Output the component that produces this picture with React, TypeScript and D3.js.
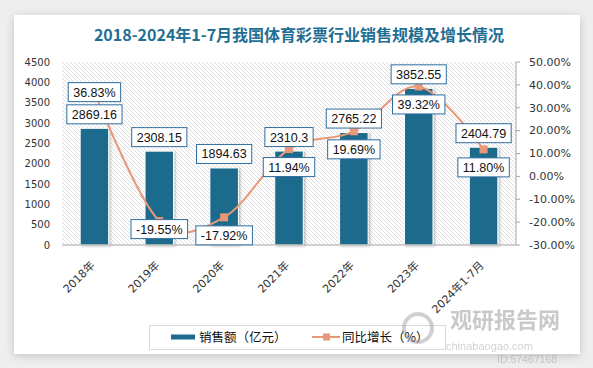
import React, { useEffect, useRef } from 'react';
import * as d3 from 'd3';

const categories = ['2018年', '2019年', '2020年', '2021年', '2022年', '2023年', '2024年1-7月'];
const sales = [2869.16, 2308.15, 1894.63, 2310.3, 2765.22, 3852.55, 2404.79];
const growth = [36.83, -19.55, -17.92, 11.94, 19.69, 39.32, 11.8];
const leftTicks = [0, 500, 1000, 1500, 2000, 2500, 3000, 3500, 4000, 4500];
const rightTicks = [-30, -20, -10, 0, 10, 20, 30, 40, 50];
const title = '2018-2024年1-7月我国体育彩票行业销售规模及增长情况';
const legendSales = '销售额（亿元）';
const legendGrowth = '同比增长（%）';
// label placement relative to the growth point (layout, not data)
const growthLabelDy = [0, 8, 18, 18, 18, 18, 18];

const W = 593;
const H = 368;
const BAR = '#1E6A8C';
const LINE = '#E89878';
const BOX = '#2F6EA0';
const FONT = '"Liberation Sans", "Noto Sans CJK SC", sans-serif';
const AXFONT = '"DejaVu Sans", "Noto Sans CJK SC", sans-serif';

export default function App() {
  const ref = useRef<SVGSVGElement>(null);

  useEffect(() => {
    const svg = d3.select(ref.current);
    svg.selectAll('*').remove();

    const defs = svg.append('defs');
    const f = defs.append('filter').attr('id', 'shadow').attr('x', '-5%').attr('y', '-5%').attr('width', '110%').attr('height', '110%');
    f.append('feDropShadow').attr('dx', 0).attr('dy', 2).attr('stdDeviation', 4).attr('flood-color', '#000').attr('flood-opacity', 0.18);
    const bf = defs.append('filter').attr('id', 'barshadow').attr('x', '-20%').attr('y', '-5%').attr('width', '150%').attr('height', '110%');
    bf.append('feDropShadow').attr('dx', 1.5).attr('dy', 1).attr('stdDeviation', 1).attr('flood-color', '#000').attr('flood-opacity', 0.25);
    const pat = defs.append('pattern').attr('id', 'hatch').attr('patternUnits', 'userSpaceOnUse').attr('width', 4).attr('height', 4);
    pat.append('rect').attr('width', 4).attr('height', 4).attr('fill', '#fff');
    pat.append('path').attr('d', 'M-1,-1 L5,5 M-1,3 L1,5 M3,-1 L5,1').attr('stroke', '#d6d6d6').attr('stroke-width', 0.8);

    svg.append('rect').attr('width', W).attr('height', H).attr('fill', '#eeeeee');
    svg.append('rect').attr('x', 14).attr('y', 15).attr('width', 566).attr('height', 339).attr('fill', '#fff').attr('filter', 'url(#shadow)');

    svg.append('text').attr('x', 299).attr('y', 41).attr('text-anchor', 'middle')
      .attr('font-family', '"Noto Sans CJK SC", sans-serif').attr('font-weight', 'bold').attr('font-size', 16)
      .attr('fill', '#1F6E94').text(title);

    const left = 62, right = 516, top = 62, bottom = 245;
    const x = d3.scaleBand<string>().domain(categories).range([left, right]).paddingInner(0.56).paddingOuter(0.28);
    const yL = d3.scaleLinear().domain([0, 4500]).range([bottom, top]);
    const yR = d3.scaleLinear().domain([-30, 50]).range([bottom, top]);
    const cx = (c: string) => (x(c) as number) + x.bandwidth() / 2;

    svg.append('rect').attr('x', left).attr('y', top).attr('width', right - left).attr('height', bottom - top).attr('fill', 'url(#hatch)');

    // left axis labels
    svg.append('g').selectAll('text').data(leftTicks).join('text')
      .attr('x', 50).attr('y', d => yL(d)).attr('dy', '0.35em').attr('text-anchor', 'end')
      .attr('font-family', AXFONT).attr('font-size', 10).attr('fill', '#333').text(d => String(d));

    // right axis
    const ra = svg.append('g');
    ra.append('line').attr('x1', right).attr('x2', right).attr('y1', top).attr('y2', bottom).attr('stroke', '#a6a6a6');
    ra.selectAll('line.t').data(rightTicks).join('line').attr('class', 't')
      .attr('x1', right).attr('x2', right + 4).attr('y1', d => yR(d)).attr('y2', d => yR(d)).attr('stroke', '#a6a6a6');
    ra.selectAll('text').data(rightTicks).join('text')
      .attr('x', right + 13).attr('y', d => yR(d)).attr('dy', '0.35em')
      .attr('font-family', AXFONT).attr('font-size', 11).attr('fill', '#333').text(d => d.toFixed(2) + '%');

    // bars
    svg.append('g').selectAll('rect').data(sales).join('rect')
      .attr('x', (d, i) => x(categories[i]) as number).attr('width', x.bandwidth())
      .attr('y', d => yL(d)).attr('height', d => bottom - yL(d))
      .attr('fill', BAR).attr('stroke', '#fff').attr('stroke-width', 1).attr('filter', 'url(#barshadow)');

    // baseline
    svg.append('line').attr('x1', left).attr('x2', right).attr('y1', bottom).attr('y2', bottom).attr('stroke', '#a6a6a6');

    // x labels
    svg.append('g').selectAll('text').data(categories).join('text')
      .attr('transform', d => `translate(${cx(d) + 1},${bottom + 21}) rotate(-45)`)
      .attr('text-anchor', 'end').attr('font-family', AXFONT).attr('font-size', 11).attr('fill', '#333').text(d => d);

    // line
    const pts: [number, number][] = growth.map((g, i) => [cx(categories[i]), yR(g)]);
    const lineGen = d3.line().curve(d3.curveCardinal.tension(0));
    svg.append('path').attr('d', lineGen(pts)).attr('fill', 'none').attr('stroke', LINE).attr('stroke-width', 2);
    svg.append('g').selectAll('rect').data(pts).join('rect')
      .attr('x', d => d[0] - 4).attr('y', d => d[1] - 4).attr('width', 8).attr('height', 8).attr('fill', LINE);

    // data labels
    const label = (g: any, cxp: number, cyp: number, txt: string) => {
      const t = g.append('text').attr('x', cxp).attr('y', cyp).attr('dy', '0.36em').attr('text-anchor', 'middle')
        .attr('font-family', FONT).attr('font-size', 12.5).attr('fill', '#111').text(txt);
      const w = (t.node() as SVGTextElement).getComputedTextLength();
      g.insert('rect', 'text').attr('x', cxp - w / 2 - 5).attr('y', cyp - 9.5).attr('width', w + 10).attr('height', 19)
        .attr('fill', '#fff').attr('stroke', BOX).attr('stroke-width', 1);
    };
    sales.forEach((v, i) => {
      const g = svg.append('g');
      label(g, cx(categories[i]), yL(v) - 14, String(v));
    });
    growth.forEach((v, i) => {
      const g = svg.append('g');
      label(g, cx(categories[i]), yR(v) + growthLabelDy[i], v.toFixed(2) + '%');
    });

    // legend
    const lg = svg.append('g');
    lg.append('rect').attr('x', 149.5).attr('y', 325.5).attr('width', 296).attr('height', 24).attr('fill', '#fff').attr('stroke', '#d9d9d9');
    lg.append('rect').attr('x', 171).attr('y', 334.5).attr('width', 24).attr('height', 5).attr('fill', BAR);
    lg.append('text').attr('x', 199).attr('y', 337.5).attr('dy', '0.36em').attr('font-family', '"Noto Sans CJK SC", sans-serif').attr('font-size', 12.5).attr('fill', '#111').text(legendSales);
    lg.append('line').attr('x1', 312).attr('x2', 340).attr('y1', 337).attr('y2', 337).attr('stroke', LINE).attr('stroke-width', 2);
    lg.append('rect').attr('x', 323).attr('y', 333.5).attr('width', 7).attr('height', 7).attr('fill', LINE);
    lg.append('text').attr('x', 342).attr('y', 337.5).attr('dy', '0.36em').attr('font-family', '"Noto Sans CJK SC", sans-serif').attr('font-size', 12.5).attr('fill', '#111').text(legendGrowth);

    // watermark
    const wm = svg.append('g').attr('opacity', 0.45);
    wm.append('circle').attr('cx', 418).attr('cy', 328).attr('r', 14).attr('fill', 'none').attr('stroke', '#999').attr('stroke-width', 4);
    wm.append('text').attr('x', 450).attr('y', 328).attr('font-family', '"Noto Sans CJK SC", sans-serif').attr('font-weight', 'bold').attr('font-size', 22).attr('fill', '#888').text('观研报告网');
    wm.append('text').attr('x', 446).attr('y', 350).attr('font-family', FONT).attr('font-size', 11).attr('fill', '#999').text('chinabaogao.com');
    wm.append('text').attr('x', 497).attr('y', 363).attr('font-family', FONT).attr('font-size', 10.5).attr('fill', '#999').text('ID:57467168');
  }, []);

  return (
    <svg ref={ref} width={W} height={H} style={{ position: 'absolute', left: 0, top: 0, display: 'block' }} />
  );
}
